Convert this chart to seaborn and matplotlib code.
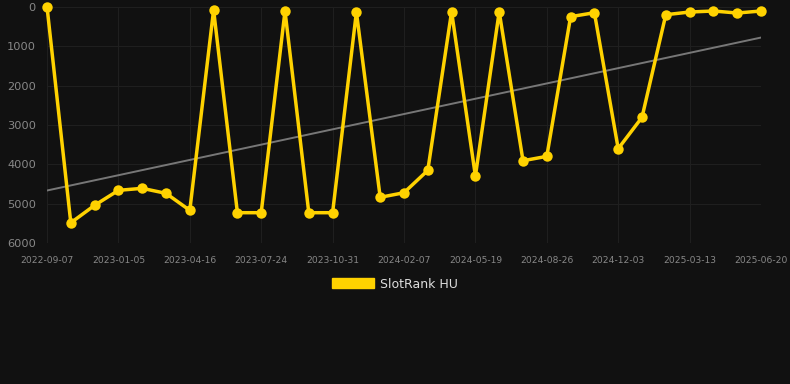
import numpy as np
import pandas as pd
import matplotlib.pyplot as plt
import seaborn as sns
from matplotlib.patches import Patch

# tick labels shown every 3rd point
tick_labels = ['2022-09-07', '2023-01-05', '2023-04-16', '2023-07-24', '2023-10-31',
               '2024-02-07', '2024-05-19', '2024-08-26', '2024-12-03', '2025-03-13',
               '2025-06-20']
ranks = [0, 5480, 5037, 4657, 4606, 4733, 5164, 84, 5224, 5224, 109,
         5224, 5224, 135, 4834, 4717, 4150, 127, 4294, 127, 3906,
         3795, 253, 152, 3601, 2806, 203, 135, 109, 160, 109]
series_name = 'SlotRank HU'

df = pd.DataFrame({'idx': np.arange(len(ranks)), 'rank': ranks})

sns.set_style('dark')
plt.rcParams['font.family'] = ['DejaVu Sans']

bg = '#111111'
gold = '#FFD200'

fig = plt.figure(figsize=(7.9, 3.84), dpi=100, facecolor=bg)
ax = fig.add_axes([47/790, 1 - 243.3/384, 714/790, (243.3 - 6.7)/384])
ax.set_facecolor(bg)

# trend line (linear fit)
k, b = np.polyfit(df['idx'], df['rank'], 1)
ax.plot(df['idx'], k*df['idx'] + b, color='#777777', lw=1.4, zorder=2)

sns.lineplot(data=df, x='idx', y='rank', ax=ax, color=gold, lw=2.5,
             marker='o', markersize=7.5, markeredgewidth=0, zorder=3, clip_on=False)

ax.set_xlim(0, len(ranks) - 1)
ax.set_ylim(6000, 0)
ax.set_yticks(range(0, 6001, 1000))
ax.set_xticks(np.arange(0, len(ranks), 3))
ax.set_xticklabels(tick_labels)
ax.set_xlabel('')
ax.set_ylabel('')
ax.grid(True, color='#1f1f1f', lw=0.8)
for s in ax.spines.values():
    s.set_visible(False)
ax.tick_params(axis='x', colors='#888888', labelsize=6.6, length=0, pad=9)
ax.tick_params(axis='y', colors='#888888', labelsize=8.2, length=0, pad=8)

fig.legend(handles=[Patch(facecolor=gold, edgecolor=gold, label=series_name)],
           loc='center', bbox_to_anchor=(0.5, 1 - 284/384), frameon=False,
           labelcolor='#dddddd', fontsize=9, handlelength=3.3, handleheight=0.9,
           handletextpad=0.5)

fig.savefig('out.png', dpi=100, facecolor=bg)
